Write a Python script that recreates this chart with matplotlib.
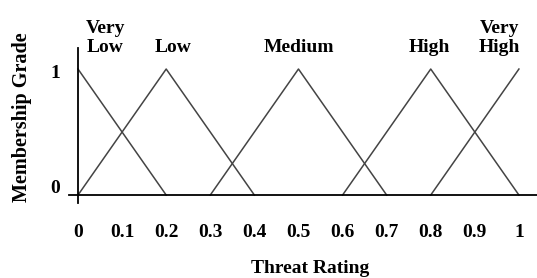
import matplotlib.pyplot as plt
import matplotlib.transforms as mtransforms

# membership functions (x points, y points)
names = ["Very\nLow", "Low", "Medium", "High", "Very\nHigh"]
xs = [[0, 0.2], [0, 0.2, 0.4], [0.3, 0.5, 0.7], [0.6, 0.8, 1.0], [0.8, 1.0]]
ys = [[1, 0], [0, 1, 0], [0, 1, 0], [0, 1, 0], [0, 1]]
label_x = [0.062, 0.216, 0.5, 0.797, 0.955]
xticks = [0, 0.1, 0.2, 0.3, 0.4, 0.5, 0.6, 0.7, 0.8, 0.9, 1]
xticklabels = ["0", "0.1", "0.2", "0.3", "0.4", "0.5", "0.6", "0.7", "0.8", "0.9", "1"]

plt.rcParams['font.family'] = 'Liberation Serif'
plt.rcParams['font.weight'] = 'bold'

fig = plt.figure(figsize=(5.37, 2.78), dpi=100)
ax = fig.add_axes([0.1285, 0.2698, 0.8715, 0.5576])

for x, y in zip(xs, ys):
    ax.plot(x, y, color='#444444', lw=1.1)

for n, lx in zip(names, label_x):
    ax.text(lx, 1.105, n, ha='center', va='bottom', fontsize=14,
            fontweight='bold', linespacing=1.12)

ax.set_xlim(-0.0204, 1.041)
ax.set_ylim(-0.063, 1.167)
ax.spines['left'].set_position(('data', 0))
ax.spines['bottom'].set_position(('data', 0))
ax.spines['top'].set_visible(False)
ax.spines['right'].set_visible(False)
ax.spines['left'].set_linewidth(1.3)
ax.spines['bottom'].set_linewidth(1.3)

ax.set_xticks(xticks)
ax.set_xticklabels(xticklabels, fontsize=14, fontweight='bold')
ax.set_yticks([0, 1])
ax.set_yticklabels(["0", "1"], fontsize=14, fontweight='bold')
ax.tick_params(axis='x', length=0, pad=21)
ax.tick_params(axis='y', length=0, pad=13)
for t in ax.get_yticklabels():
    t.set_va('center')
    dy = 5 / 72 if t.get_text() == "0" else -3 / 72
    t.set_transform(t.get_transform() + mtransforms.ScaledTranslation(0, dy, fig.dpi_scale_trans))

fig.text(0.577, 0.035, "Threat Rating", ha='center', va='center',
         fontsize=14, fontweight='bold')
fig.text(0.041, 0.579, "Membership Grade", ha='center', va='center',
         rotation=90, fontsize=14.5, fontweight='bold')

fig.savefig("out.png", dpi=100)
